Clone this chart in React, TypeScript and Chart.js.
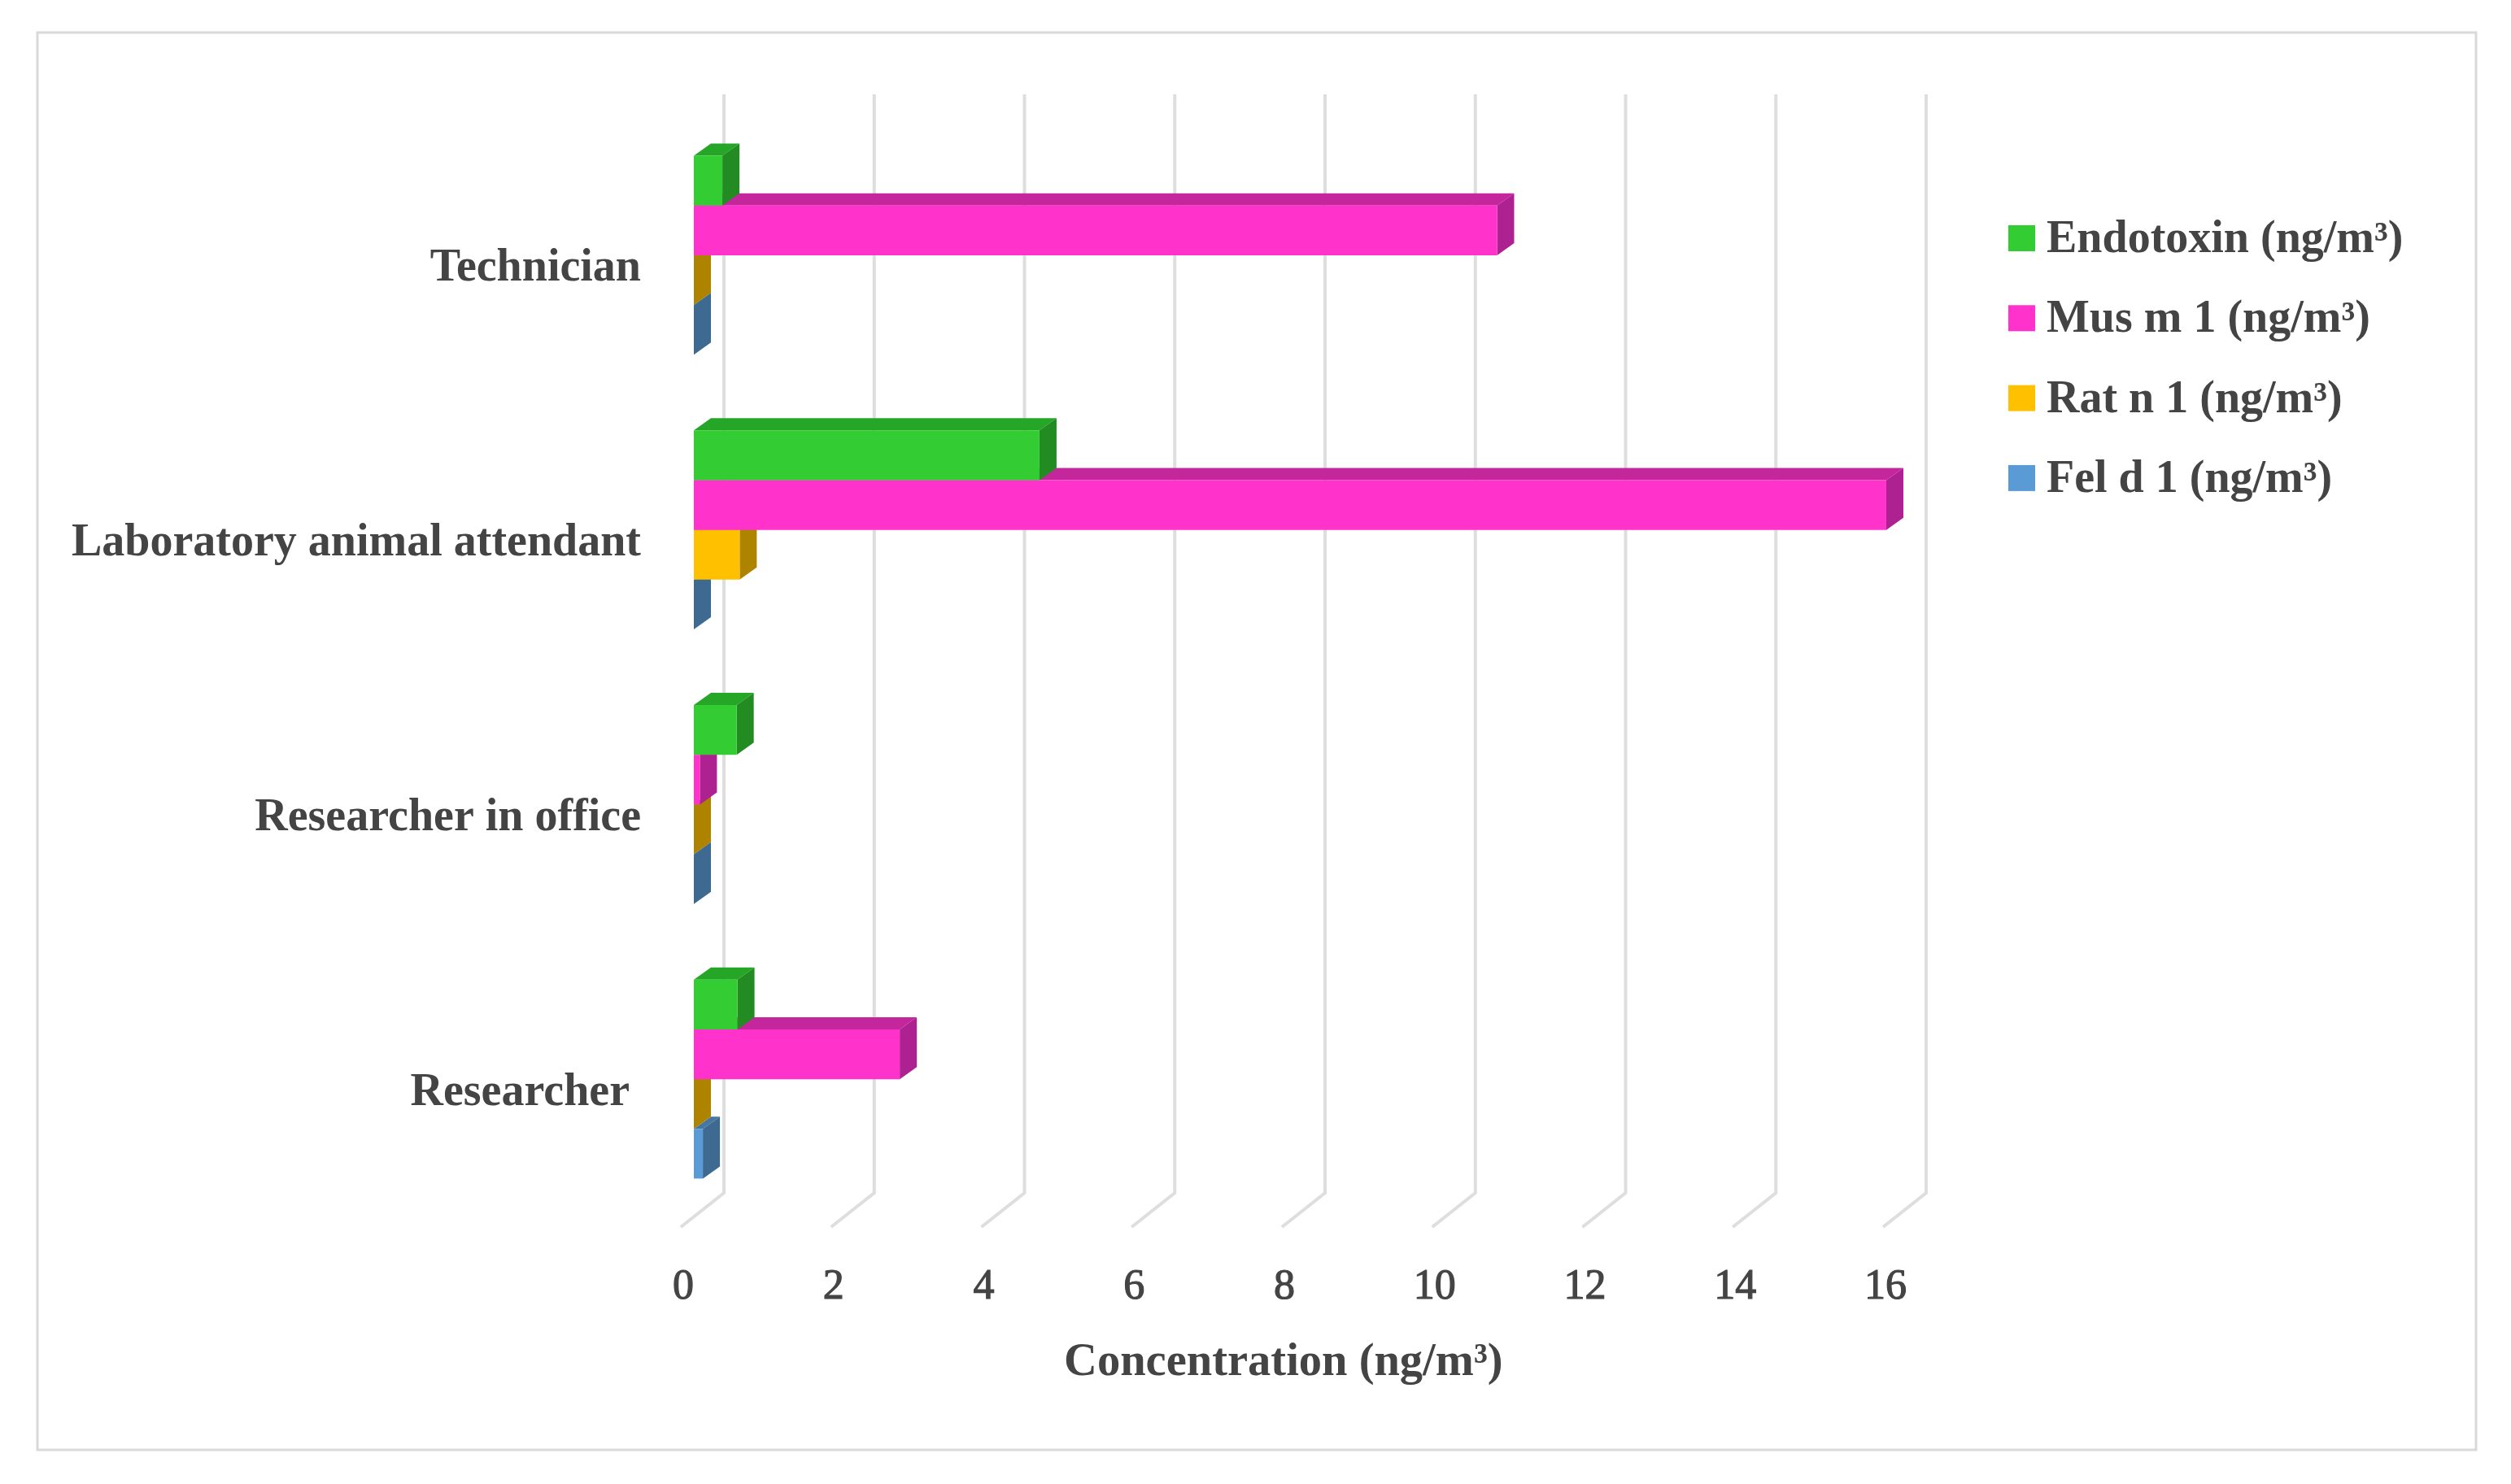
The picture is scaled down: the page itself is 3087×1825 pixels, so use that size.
import React, { useEffect, useRef } from "react";
import { Chart, registerables } from "chart.js";

Chart.register(...registerables);

const categories = ["Technician", "Laboratory animal attendant", "Researcher in office", "Researcher "];
const endotoxin = [0.38, 4.6, 0.57, 0.58];
const musM1 = [10.69, 15.87, 0.08, 2.74];
const ratN1 = [0, 0.61, 0, 0];
const felD1 = [0, 0, 0, 0.12];
const seriesNames = ["Endotoxin (ng/m³)", "Mus m 1 (ng/m³)", "Rat n 1 (ng/m³)", "Fel d 1 (ng/m³)"];
const frontColors = ["#33CC33", "#FF33CC", "#FFC000", "#5B9BD5"];
const topColors = ["#26A626", "#C4279C", "#C49300", "#4677A3"];
const sideColors = ["#228B22", "#AE2190", "#AE8300", "#3E6A92"];
const axisTitle = "Concentration (ng/m³)  ";

const TEXT = "#444444";
const SERIF = "'Liberation Serif', serif";
const DEPTH_X = 21;
const DEPTH_Y = -15;

const poly = (ctx: CanvasRenderingContext2D, pts: number[][], fill: string) => {
  ctx.beginPath();
  pts.forEach(([x, y], i) => (i ? ctx.lineTo(x, y) : ctx.moveTo(x, y)));
  ctx.closePath();
  ctx.fillStyle = fill;
  ctx.fill();
};

const scene = {
  id: "scene",
  beforeDraw(chart: any) {
    const { ctx, width, height } = chart;
    ctx.save();
    ctx.fillStyle = "#ffffff";
    ctx.fillRect(0, 0, width, height);
    ctx.strokeStyle = "#D9D9D9";
    ctx.lineWidth = 3;
    ctx.strokeRect(46, 40, 2998, 1743);
    ctx.restore();
  },
  beforeDatasetsDraw(chart: any) {
    const { ctx, chartArea, scales } = chart;
    ctx.save();
    ctx.strokeStyle = "#DEDEDE";
    ctx.lineJoin = "miter";
    for (const t of scales.x.ticks) {
      const back = scales.x.getPixelForValue(t.value) + 37;
      ctx.lineWidth = 4;
      ctx.beginPath();
      ctx.moveTo(back, chartArea.top - 29);
      ctx.lineTo(back, chartArea.bottom - 29);
      ctx.lineTo(back - 53, chartArea.bottom + 13);
      ctx.stroke();
    }
    ctx.restore();
  },
  beforeDatasetDraw(chart: any, args: any) {
    const { ctx } = chart;
    const i = args.index;
    ctx.save();
    for (const el of args.meta.data) {
      const p = el.getProps(["x", "y", "base", "height"], true);
      const t = p.y - p.height / 2;
      const b = p.y + p.height / 2;
      if (p.x - p.base > 0.5) {
        poly(ctx, [[p.base, t], [p.x, t], [p.x + DEPTH_X, t + DEPTH_Y], [p.base + DEPTH_X, t + DEPTH_Y]], topColors[i]);
      }
      poly(ctx, [[p.x, t], [p.x + DEPTH_X, t + DEPTH_Y], [p.x + DEPTH_X, b + DEPTH_Y], [p.x, b]], sideColors[i]);
    }
    ctx.restore();
  },
  afterDraw(chart: any) {
    const { ctx } = chart;
    ctx.save();
    ctx.font = `bold 56px ${SERIF}`;
    ctx.textBaseline = "alphabetic";
    ctx.textAlign = "left";
    chart.data.datasets.forEach((d: any, i: number) => {
      const cy = 293 + i * 98.3;
      ctx.fillStyle = d.backgroundColor;
      ctx.fillRect(2469, cy - 16, 33, 32);
      ctx.fillStyle = TEXT;
      ctx.fillText(d.label, 2516, cy + 17);
    });
    ctx.restore();
  },
};

export default function App() {
  const ref = useRef<HTMLCanvasElement>(null);
  useEffect(() => {
    const values = [endotoxin, musM1, ratN1, felD1];
    const chart = new Chart(ref.current!, {
      type: "bar",
      data: {
        labels: categories,
        datasets: values.map((data, i) => ({
          label: seriesNames[i],
          data,
          backgroundColor: frontColors[i],
          borderWidth: 0,
          barPercentage: 1,
          categoryPercentage: 0.724,
        })),
      },
      options: {
        indexAxis: "y",
        animation: false,
        responsive: false,
        devicePixelRatio: 1,
        layout: { padding: { top: 145, right: 756, left: 0, bottom: 0 } },
        plugins: { legend: { display: false }, tooltip: { enabled: false }, title: { display: false } },
        scales: {
          x: {
            min: 0,
            max: 16,
            afterFit: (s: any) => { s.height = 329; },
            border: { display: false },
            grid: { display: false },
            ticks: {
              stepSize: 2,
              autoSkip: false,
              maxRotation: 0,
              padding: 48,
              labelOffset: -13,
              color: TEXT,
              textStrokeColor: TEXT,
              textStrokeWidth: 1.2,
              font: { family: SERIF, size: 52 },
            },
            title: {
              display: true,
              text: axisTitle,
              color: TEXT,
              font: { family: SERIF, size: 56.5, weight: "bold" },
              padding: { top: 0, bottom: 115 },
            },
          },
          y: {
            afterFit: (s: any) => { s.width = 853; },
            border: { display: false },
            grid: { display: false, drawTicks: false },
            ticks: {
              autoSkip: false,
              padding: 65,
              labelOffset: 17,
              color: TEXT,
              font: { family: SERIF, size: 56, weight: "bold" },
            },
          },
        },
      } as any,
      plugins: [scene],
    });
    return () => chart.destroy();
  }, []);
  return (
    <div style={{ position: "absolute", left: 0, top: 0, width: 3087, height: 1825, overflow: "hidden", background: "#fff" }}>
      <canvas ref={ref} width={3087} height={1825} style={{ display: "block" }} />
    </div>
  );
}
